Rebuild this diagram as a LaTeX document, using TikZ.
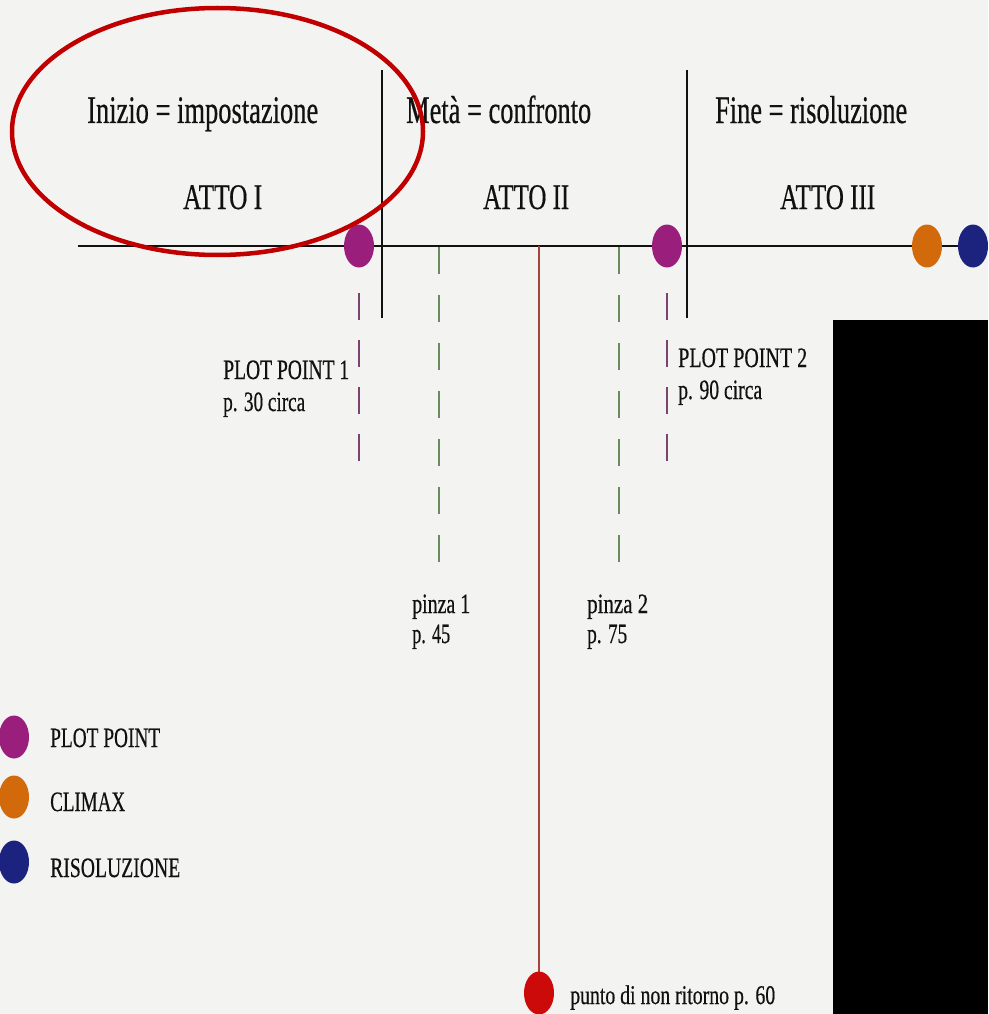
\documentclass[tikz,border=0pt]{standalone}
\usepackage{fontspec}
\setmainfont[FakeBold=0.6,AutoFakeBold=0.6]{Liberation Serif}
\usetikzlibrary{shapes.geometric,backgrounds}

\definecolor{paper}{HTML}{F3F3F2}
\definecolor{ink}{HTML}{111111}
\definecolor{ppurple}{HTML}{9A1F7C}
\definecolor{pclimax}{HTML}{D2690A}
\definecolor{pres}{HTML}{1B237F}
\definecolor{pred}{HTML}{CC0A0A}
\definecolor{ring}{HTML}{C00000}
\definecolor{brownline}{HTML}{A0463C}
\definecolor{dashpurple}{HTML}{7B4470}
\definecolor{dashgreen}{HTML}{6A8C5C}

% set a label at a given width while keeping its height
\newcommand\squeezed[2]{\resizebox{#1pt}{\height}{\bfseries #2}}

\begin{document}
\begin{tikzpicture}[x=1pt,y=-1pt,
  dot/.style={ellipse, minimum width=30pt, minimum height=43pt, inner sep=0pt, fill=#1},
  lbl/.style={anchor=base west, inner sep=0pt, text=ink, font=\fontsize{#1pt}{#1pt}\selectfont},
  axis/.style={draw=ink, line width=2.2pt},
  divider/.style={draw=ink, line width=2pt},
  ppdash/.style={draw=dashpurple, line width=1.6pt, dash pattern=on 27pt off 20pt},
  pinzadash/.style={draw=dashgreen, line width=1.6pt, dash pattern=on 27pt off 21pt},
  returnline/.style={draw=brownline, line width=1.6pt},
  ringstyle/.style={ellipse, draw=ring, line width=4.5pt, inner sep=0pt}
]
\useasboundingbox (0,0) rectangle (988,1014);

% paper
\begin{pgfonlayer}{background}
  \fill[paper] (0,0) rectangle (988,1014);
\end{pgfonlayer}

% timeline points
\node[dot=ppurple] (pp1) at (359,246) {};
\node[dot=ppurple] (pp2) at (667,246) {};
\node[dot=pclimax] (climax) at (927,246) {};
\node[dot=pres] (ris) at (973,246) {};
\node[dot=pred] (pnr) at (539,993) {};

\coordinate (tlstart) at (78,246);
\coordinate (pnrtop) at (539,246);
\begin{pgfonlayer}{background}
  \draw[axis] (tlstart) -- (ris.center);
  \draw[returnline] (pnrtop) -- (pnr.center);
\end{pgfonlayer}

% act dividers
\coordinate (d1top) at (382,70);  \coordinate (d1bot) at (382,318);
\coordinate (d2top) at (687,70);  \coordinate (d2bot) at (687,318);
\draw[divider] (d1top) -- (d1bot);
\draw[divider] (d2top) -- (d2bot);

% plot point markers
\coordinate (pp1a) at (359,293); \coordinate (pp1b) at (359,463);
\coordinate (pp2a) at (667,293); \coordinate (pp2b) at (667,463);
\draw[ppdash] (pp1a) -- (pp1b);
\draw[ppdash] (pp2a) -- (pp2b);

% pinch markers
\coordinate (pz1a) at (439,247); \coordinate (pz1b) at (439,562);
\coordinate (pz2a) at (619,247); \coordinate (pz2b) at (619,562);
\draw[pinzadash] (pz1a) -- (pz1b);
\draw[pinzadash] (pz2a) -- (pz2b);

% headings
\node[lbl=39] (inizio) at (87,123) {\squeezed{231}{Inizio = impostazione}};
\node[lbl=39] (meta)   at (406,123) {\squeezed{185}{Metà = confronto}};
\node[lbl=39] (fine)   at (715,123) {\squeezed{192}{Fine = risoluzione}};
\node[lbl=36] (atto1)  at (183,209) {\squeezed{79}{ATTO I}};
\node[lbl=36] (atto2)  at (483,209) {\squeezed{86}{ATTO II}};
\node[lbl=36] (atto3)  at (780,209) {\squeezed{95}{ATTO III}};

% point labels
\node[lbl=28] (pp1t)  at (223,379) {\squeezed{126}{PLOT POINT 1}};
\node[lbl=28] (pp1p)  at (223,411) {\squeezed{82}{p. 30 circa}};
\node[lbl=28] (pp2t)  at (678,367) {\squeezed{129}{PLOT POINT 2}};
\node[lbl=28] (pp2p)  at (678,399) {\squeezed{84}{p. 90 circa}};
\node[lbl=28] (pz1t)  at (412,613) {\squeezed{58}{pinza 1}};
\node[lbl=28] (pz1p)  at (412,643) {\squeezed{38}{p. 45}};
\node[lbl=28] (pz2t)  at (587,613) {\squeezed{61}{pinza 2}};
\node[lbl=28] (pz2p)  at (587,643) {\squeezed{40}{p. 75}};
\node[lbl=27] (pnrt)  at (570,1004) {\squeezed{205}{punto di non ritorno p. 60}};

% legend
\node[dot=ppurple] (lg1) at (14,737) {};
\node[dot=pclimax] (lg2) at (14,797) {};
\node[dot=pres]    (lg3) at (14,862) {};
\node[lbl=28] (lg1t) at (50,747) {\squeezed{110}{PLOT POINT}};
\node[lbl=28] (lg2t) at (50,811) {\squeezed{75}{CLIMAX}};
\node[lbl=28] (lg3t) at (50,877) {\squeezed{130}{RISOLUZIONE}};

% highlight around the first act
\node[ringstyle, minimum width=411pt, minimum height=247pt] (ringmark) at (217.5,131.5) {};

% masked area
\fill[black] (833,320) rectangle (988,1014);
\end{tikzpicture}
\end{document}
